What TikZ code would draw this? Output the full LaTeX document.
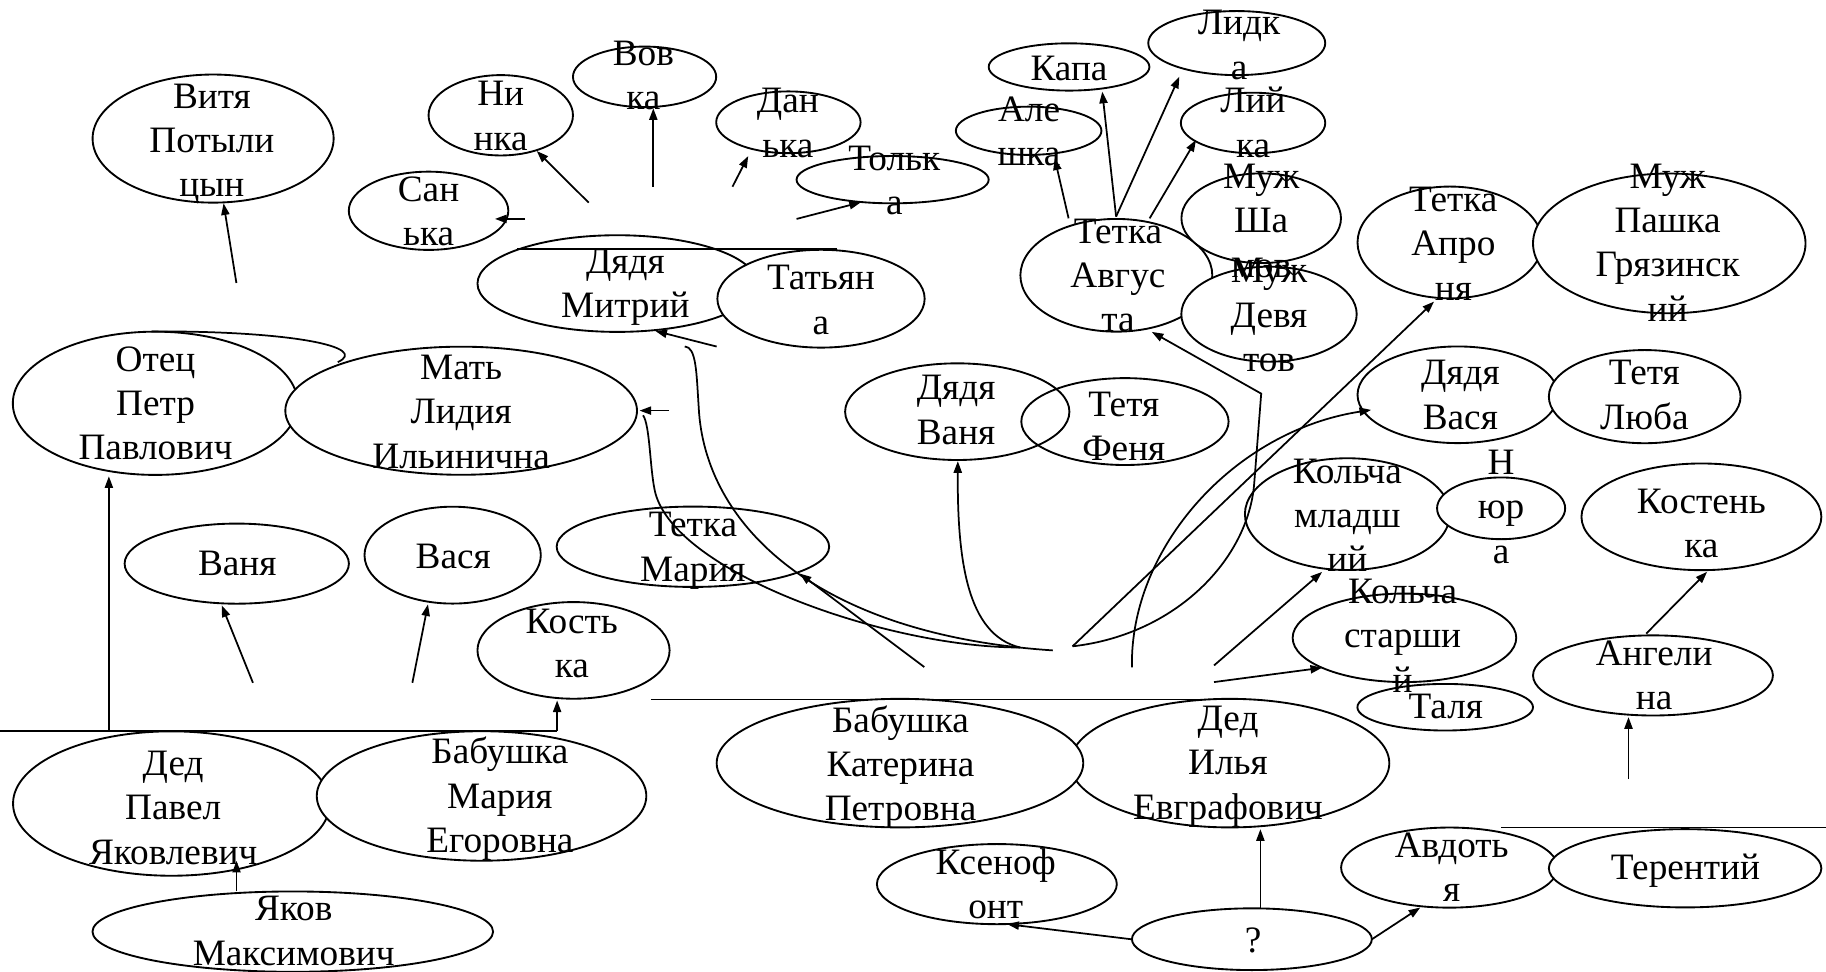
\documentclass[tikz,border=0pt]{standalone}
\usepackage{fontspec}
\setmainfont{Liberation Serif}
\usetikzlibrary{shapes.geometric,arrows.meta}
\newcommand\famtb[1]{\begin{tabular}[t]{@{}c@{}}#1\end{tabular}}
\tikzset{
  pers/.style={draw, ellipse, fill=white, inner sep=0pt, line width=1.6pt},
  hollow/.style={draw, ellipse, inner sep=0pt, line width=1.6pt},
  lbl/.style={anchor=base, inner sep=0pt, font=\fontsize{32}{38}\selectfont},
  conn/.style={line width=1.5pt},
  arr/.style={line width=1.5pt, -{Triangle[length=10pt,width=7pt]}},
}
\newcommand\famnode[6][pers]{\node[#1,minimum width={2*#5pt},minimum height={2*#6pt}] (#2) at (#3,#4) {};}
\newcommand\famtext[4]{\node[lbl] (#1) at (#2,#3) {\famtb{#4}};}
\begin{document}
\begin{tikzpicture}[x=1pt,y=-1pt]
\fill[white] (0,0) rectangle (1568,834);
\useasboundingbox (0,0) rectangle (1568,834);
% ---------- ellipses ----------
\famnode{vitya}{183}{119}{103.5}{55}
\famnode{ninka}{430}{99}{62}{34.5}
\famnode{vovka}{553.5}{66}{61.5}{26}
\famnode{sanka}{368}{181}{68.5}{33.6}
\famnode{danka}{677}{105}{62}{26.5}
\famnode{tolka}{766.5}{154.3}{82.5}{20.3}
\famnode{kapa}{918}{57.5}{69}{20.3}
\famnode{aleshka}{883.3}{112.3}{62.5}{20.7}
\famnode{lidka}{1062}{37}{76}{27.5}
\famnode{liyka}{1076}{105.6}{62}{26}
\famnode{avgusta}{958.6}{236.4}{82.4}{48.4}
\famnode{shamov}{1083}{187.4}{68.5}{38.5}
\famnode{devyatov}{1089.7}{269.8}{75.3}{40.8}
\famnode{mitry}{530}{243.5}{120}{41.5}
\famnode{tatyana}{705}{256.5}{89}{42}
\famnode{otec}{133.3}{346.3}{122.3}{61.5}
\famnode{mat}{396}{352.7}{151}{55}
\famnode[hollow]{vanya}{822}{353.5}{96.3}{41.5}
\famnode[hollow]{fenya}{966}{362}{89}{37.3}
\famnode{maria}{595}{469.5}{117}{34.5}
\famnode{aprone}{1245}{208.2}{79.3}{48}
\famnode{pashka}{1433.4}{209}{117}{60}
\famnode{vasyauncle}{1251.7}{339}{86}{41.5}
\famnode{lyuba}{1412.3}{340.6}{82.3}{40}
\famnode{kolyaml}{1157}{441.5}{88}{48}
\famnode{nyura}{1289}{436.5}{55}{26.5}
\famnode{talya}{1241}{607.3}{75.4}{20}
\famnode{kolyast}{1206}{547.7}{96}{38}
\famnode{kostenka}{1461}{443.8}{103}{45.8}
\famnode{angelina}{1419.4}{580}{103}{34.4}
\famnode{vanyaboy}{203.3}{484}{96.3}{34.4}
\famnode{vasyaboy}{388.7}{476.7}{75.7}{41.6}
\famnode{kostka}{492.5}{558.5}{82.5}{41.5}
\famnode{dedpavel}{147.2}{690}{136}{62}
\famnode{babmaria}{413.5}{683.5}{141.5}{55.6}
\famnode{yakov}{251.4}{800}{172}{34.5}
\famnode{dedilya}{1056}{655.3}{137}{55.2}
\famnode{babkat}{772.8}{655.3}{157.4}{55.2}
\famnode{ksenofont}{856}{759.2}{103}{34.4}
\famnode{question}{1075}{806.5}{103}{26.5}
\famnode{avdotya}{1244.6}{745}{93}{34.4}
\famnode{terenty}{1447}{745.6}{117}{33.6}
% ---------- texts ----------
\famtext{vitya-t}{182}{93}{Витя\\Потыли\\цын}
\famtext{ninka-t}{430}{91}{Ни\\нка}
\famtext{vovka-t}{552.5}{56}{Вов\\ка}
\famtext{sanka-t}{368}{173}{Сан\\ька}
\famtext{danka-t}{676.5}{97}{Дан\\ька}
\famtext{tolka-t}{768}{146}{Тольк\\а}
\famtext{kapa-t}{918}{69}{Капа}
\famtext{aleshka-t}{883.7}{104.5}{Але\\шка}
\famtext{lidka-t}{1064}{30}{Лидк\\а}
\famtext{liyka-t}{1076}{97}{Лий\\ка}
\famtext{avgusta-t}{960}{209}{Тетка\\Авгус\\та}
\famtext{shamov-t}{1083}{162}{Муж\\Ша\\мов}
\famtext{devyatov-t}{1089.7}{243}{Муж\\Девя\\тов}
\famtext{mitry-t}{537}{234.5}{Дядя\\Митрий}
\famtext{tatyana-t}{705}{249}{Татьян\\а}
\famtext{otec-t}{133.6}{319}{Отец\\Петр\\Павлович}
\famtext{mat-t}{396}{326}{Мать\\Лидия\\Ильинична}
\famtext{vanya-t}{821}{343.4}{Дядя\\Ваня}
\famtext{fenya-t}{965}{357.8}{Тетя\\Феня}
\famtext{maria-t}{595}{461}{Тетка\\Мария}
\famtext{aprone-t}{1248}{181.7}{Тетка\\Апро\\ня}
\famtext{pashka-t}{1432}{161.7}{Муж\\Пашка\\Грязинск\\ий}
\famtext{vasyauncle-t}{1254}{330.6}{Дядя\\Вася}
\famtext{lyuba-t}{1412}{330.6}{Тетя\\Люба}
\famtext{kolyaml-t}{1157}{415}{Кольча\\младш\\ий}
\famtext{nyura-t}{1289}{407.5}{Н\\юр\\а}
\famtext{talya-t}{1241.5}{617.3}{Таля}
\famtext{kolyast-t}{1204.4}{518.3}{Кольча\\старши\\й}
\famtext{kostenka-t}{1461}{441}{Костень\\ка}
\famtext{angelina-t}{1420.4}{571.4}{Ангели\\на}
\famtext{vanyaboy-t}{203.8}{494}{Ваня}
\famtext{vasyaboy-t}{389.2}{488.2}{Вася}
\famtext{kostka-t}{491}{544}{Кость\\ка}
\famtext{dedpavel-t}{148.7}{666}{Дед\\Павел\\Яковлевич}
\famtext{babmaria-t}{429.3}{656}{Бабушка\\Мария\\Егоровна}
\famtext{yakov-t}{252.2}{790.8}{Яков\\Максимович}
\famtext{dedilya-t}{1054.5}{627.3}{Дед\\Илья\\Евграфович}
\famtext{babkat-t}{773.3}{628.7}{Бабушка\\Катерина\\Петровна}
\famtext{ksenofont-t}{855}{750.6}{Ксеноф\\онт}
\famtext{question-t}{1076}{818}{?}
\famtext{avdotya-t}{1246.6}{736.3}{Авдоть\\я}
\famtext{terenty-t}{1447.3}{755}{Терентий}
% ---------- free ends ----------
\coordinate (c-vitya) at (203,243);
\coordinate (c-ninka) at (505.5,174);
\coordinate (c-sanka) at (451,188);   \coordinate (t-sanka) at (425,188);
\coordinate (c-vovka) at (561,160.3); \coordinate (t-vovka) at (561,93);
\coordinate (c-danka) at (629,160.3); \coordinate (t-danka) at (642.5,134);
\coordinate (c-tolka) at (684,188);   \coordinate (t-tolka) at (739.3,173.7);
\coordinate (s-alesh) at (917.6,187.5); \coordinate (t-alesh) at (905.7,136);
\coordinate (s-kapa) at (958.4,186);  \coordinate (t-kapa) at (946.5,78.7);
\coordinate (t-lidka) at (1012.7,65.8);
\coordinate (s-liyka) at (987.2,187.5); \coordinate (t-liyka) at (1027,120.2);
\coordinate (c-mitry) at (615.4,297.6); \coordinate (t-mitry) at (562.7,284.2);
\coordinate (c-mat) at (574.6,352.6); \coordinate (t-mat) at (549.2,352.6);
\coordinate (c-otec) at (93.5,628);   \coordinate (t-otec) at (93.5,409);
\coordinate (c-vanyab) at (217.2,586.3); \coordinate (t-vanyab) at (190.4,519.8);
\coordinate (c-vasyab) at (354.1,586.3); \coordinate (t-vasyab) at (367.5,518.9);
\coordinate (c-kostka) at (478.4,628); \coordinate (t-kostka) at (478.4,601.5);
\coordinate (s-yakov) at (203.1,765.5); \coordinate (t-dedp) at (203.1,739.2);
\coordinate (c-maria) at (793.7,572.8); \coordinate (t-maria) at (686.7,492.5);
\coordinate (c-kml) at (1042.5,571.4); \coordinate (t-kml) at (1135.3,491.1);
\coordinate (c-kst) at (1042.5,585.7); \coordinate (t-kst) at (1135.3,573.4);
\coordinate (s-ang) at (1413.6,544.1); \coordinate (t-kosten) at (1465.9,491);
\coordinate (c-ang) at (1398.4,669);  \coordinate (t-ang) at (1398.4,615.8);
\coordinate (s-q1) at (1178,806.6);   \coordinate (t-avd) at (1219.6,779.3);
\coordinate (s-q2) at (1082.3,779.3); \coordinate (t-ded) at (1082.3,712);
\coordinate (s-q3) at (972,806.6);    \coordinate (t-ksen) at (865,793.6);
\coordinate (hub1) at (876,556);
\coordinate (hub2) at (904,558.5);
\coordinate (hub3) at (921,555);
\coordinate (hub4) at (972,573);
\coordinate (t-vanya) at (822.5,396);
\coordinate (t-avg) at (989,285);
\coordinate (t-vasya) at (1177.4,352);
\coordinate (t-apr) at (1231.4,259);
% ---------- connectors ----------
\draw[arr] (c-vitya) -- (vitya);
\draw[arr] (c-ninka) -- (ninka);
\draw[arr] (c-sanka) -- (t-sanka);
\draw[arr] (c-vovka) -- (t-vovka);
\draw[arr] (c-danka) -- (t-danka);
\draw[arr] (c-tolka) -- (t-tolka);
\draw[arr] (s-alesh) -- (t-alesh);
\draw[arr] (s-kapa) -- (t-kapa);
\draw[arr] (s-kapa) -- (t-lidka);
\draw[arr] (s-liyka) -- (t-liyka);
\draw[arr] (c-mitry) -- (t-mitry);
\draw[arr] (c-mat) -- (t-mat);
\draw[arr] (c-otec) -- (t-otec);
\draw[arr] (c-vanyab) -- (t-vanyab);
\draw[arr] (c-vasyab) -- (t-vasyab);
\draw[arr] (c-kostka) -- (t-kostka);
\draw[arr] (s-yakov) -- (t-dedp);
\draw[arr] (c-maria) -- (t-maria);
\draw[arr] (c-kml) -- (t-kml);
\draw[arr] (c-kst) -- (t-kst);
\draw[arr] (s-ang) -- (t-kosten);
\draw[arr] (c-ang) -- (t-ang);
\draw[arr] (s-q1) -- (t-avd);
\draw[arr] (s-q2) -- (t-ded);
\draw[arr] (s-q3) -- (t-ksen);
% hub curves
\draw[conn] (t-mat) ++(3,4) .. controls (558,365) and (558,400) .. (562,420)
   .. controls (575,490) and (760,556) .. (hub1);
\draw[conn] (588,297.5) .. controls (598,298) and (598,320) .. (600,350)
   .. controls (605,450) and (700,545) .. (hub2);
\draw[arr] (hub1) .. controls (830,545) and (822,480) .. (t-vanya);
\draw[arr] (hub3) .. controls (1010,545) and (1072,480) .. (1077,415) -- (1083,338) -- (t-avg);
\draw[arr] (hub3) -- (t-apr);
\draw[arr] (hub4) .. controls (970,470) and (1060,370) .. (t-vasya);
% marriage lines
\draw[conn] (444,213.5) -- (719,213.5);
\draw[conn] (0,628) -- (c-kostka);
\draw[conn] (559,600.6) -- (1056,600.6);
\draw[conn] (1289,710.5) -- (1568,710.5);
\draw[conn] (130,284.6) .. controls (250,284) and (318,298) .. (290,311);
\end{tikzpicture}
\end{document}
